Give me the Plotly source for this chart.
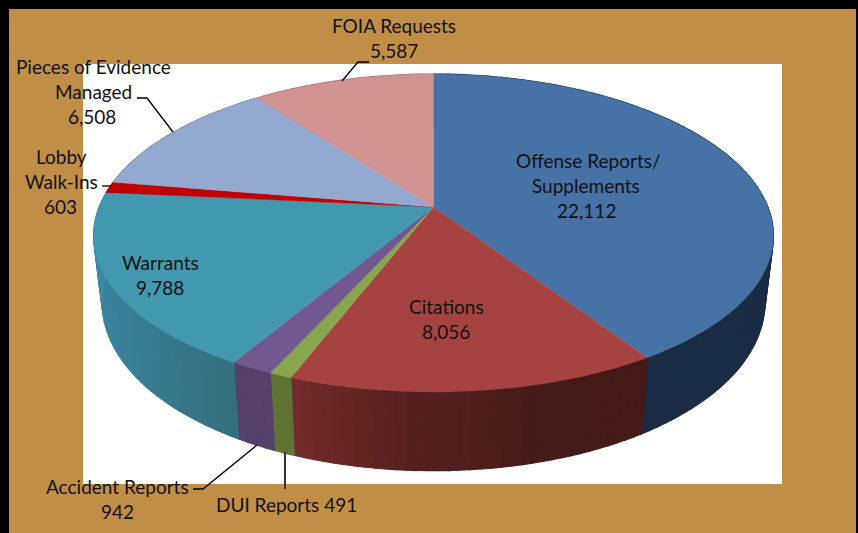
import math
import plotly.graph_objects as go

categories = ["Offense Reports/ Supplements", "Citations", "DUI Reports", "Accident Reports",
              "Warrants", "Lobby Walk-Ins", "Pieces of Evidence Managed", "FOIA Requests"]
values = [22112, 8056, 491, 942, 9788, 603, 6508, 5587]
top_colors = ["#4672a6", "#a64341", "#89a54e", "#71588f", "#4198af", "#c00000", "#93a9cf", "#d09392"]
# side shading stops, from the start of the slice to its end (clockwise)
side_colors = [
    ["#1a2c44", "#1a2c44"],
    ["#451a18", "#451b19", "#56201f", "#732b2b"],
    ["#5f7335", "#5f7335"],
    ["#553f6b", "#553f6b"],
    ["#33707f", "#3a829a", "#3f8fa8"],
    ["#8a0000", "#8a0000"],
    ["#6c7f9e", "#6c7f9e"],
    ["#9c6e6d", "#9c6e6d"],
]
label_lines = [
    (["Offense Reports/", "Supplements", "22,112"], [(588, 160), (586, 185), (586, 210)]),
    (["Citations", "8,056"], [(446, 306), (446, 331)]),
    (["DUI Reports 491"], [(286, 504)]),
    (["Accident Reports", "942"], [(117, 486), (117, 511)]),
    (["Warrants", "9,788"], [(160, 262), (160, 287)]),
    (["Lobby", "Walk-Ins", "603"], [(61, 156), (61, 181), (60, 206)]),
    (["Pieces of Evidence", "Managed", "6,508"], [(93, 66), (93, 91), (92, 116)]),
    (["FOIA Requests", "5,587"], [(394, 25), (394, 50)]),
]
leaders = [
    ([369, 358, 342], [62, 62, 81], "#000000", 1.3),
    ([137, 147, 173], [98, 98, 132], "#000000", 1.3),
    ([102, 111], [186, 186], "#000000", 1.3),
    ([193, 203, 257], [489, 489, 445], "#000000", 1.3),
    ([285, 285], [452, 489], "#333333", 2),
]

CX, Y0, A, B, PX, PY = 433.5, 207.0, 334.4, 154.7, 0.18, 0.1635
XS, YS, YB = 0.975, 1.08, 271.0


def top_pt(deg):
    t = math.radians(deg)
    u, v = math.sin(t), math.cos(t)
    return CX + A * u / (1 + PX * v), Y0 - B * v / (1 + PY * v)


def bot_pt(deg):
    x, y = top_pt(deg)
    return CX + XS * (x - CX), YB + YS * (y - Y0)


def mix(stops, f):
    pos = f * (len(stops) - 1)
    i = min(int(pos), len(stops) - 2)
    g = pos - i
    a = [int(stops[i][k:k + 2], 16) for k in (1, 3, 5)]
    b = [int(stops[i + 1][k:k + 2], 16) for k in (1, 3, 5)]
    return "rgb(%d,%d,%d)" % tuple(round(a[k] + (b[k] - a[k]) * g) for k in range(3))


total = sum(values)
edges = [0.0]
for val in values:
    edges.append(edges[-1] + val / total * 360)

fig = go.Figure()


def poly(xs, ys, color):
    fig.add_trace(go.Scatter(x=xs, y=ys, mode="lines", fill="toself", fillcolor=color,
                             line=dict(color=color, width=1.2), hoverinfo="skip", showlegend=False))


# sides, drawn strip by strip
for i in range(len(values)):
    a0, a1 = edges[i], edges[i + 1]
    n = max(2, int((a1 - a0) / 1.5))
    for k in range(n):
        s0 = a0 + (a1 - a0) * k / n
        s1 = a0 + (a1 - a0) * (k + 1) / n
        p0, p1, q1, q0 = top_pt(s0), top_pt(s1), bot_pt(s1), bot_pt(s0)
        poly([p0[0], p1[0], q1[0], q0[0], p0[0]], [p0[1], p1[1], q1[1], q0[1], p0[1]],
             mix(side_colors[i], (k + 0.5) / n))

# top faces
for i in range(len(values)):
    a0, a1 = edges[i], edges[i + 1]
    n = max(4, int((a1 - a0) / 0.75))
    pts = [top_pt(a0 + (a1 - a0) * k / n) for k in range(n + 1)]
    xs = [CX] + [p[0] for p in pts] + [CX]
    ys = [Y0] + [p[1] for p in pts] + [Y0]
    fig.add_trace(go.Scatter(x=xs, y=ys, mode="lines", fill="toself", fillcolor=top_colors[i],
                             line=dict(color=top_colors[i], width=0.4),
                             name=categories[i], text=f"{categories[i]}: {values[i]:,}",
                             hoverinfo="text", showlegend=False))

for lx, ly, lc, lw in leaders:
    fig.add_trace(go.Scatter(x=lx, y=ly, mode="lines", line=dict(color=lc, width=lw),
                             hoverinfo="skip", showlegend=False))

annotations = []
for lines, positions in label_lines:
    for text, (x, y) in zip(lines, positions):
        annotations.append(dict(x=x, y=y, xref="x", yref="y", text=text, showarrow=False,
                                xanchor="center", yanchor="middle",
                                font=dict(family="Lato", size=19, color="#111111")))

fig.update_layout(
    width=858, height=533, margin=dict(l=0, r=0, t=0, b=0),
    paper_bgcolor="#000000", plot_bgcolor="#000000",
    xaxis=dict(range=[0, 858], visible=False, fixedrange=True),
    yaxis=dict(range=[533, 0], visible=False, fixedrange=True),
    annotations=annotations,
    shapes=[
        dict(type="rect", xref="x", yref="y", x0=9, x1=856, y0=9, y1=533,
             fillcolor="#c18e47", line_width=0, layer="below"),
        dict(type="rect", xref="x", yref="y", x0=83, x1=782, y0=64, y1=484,
             fillcolor="#ffffff", line_width=0, layer="below"),
    ],
)
fig.write_html("out.html", config={"displayModeBar": False},
               post_script="document.body.style.margin='0';document.documentElement.style.overflow='hidden';")
